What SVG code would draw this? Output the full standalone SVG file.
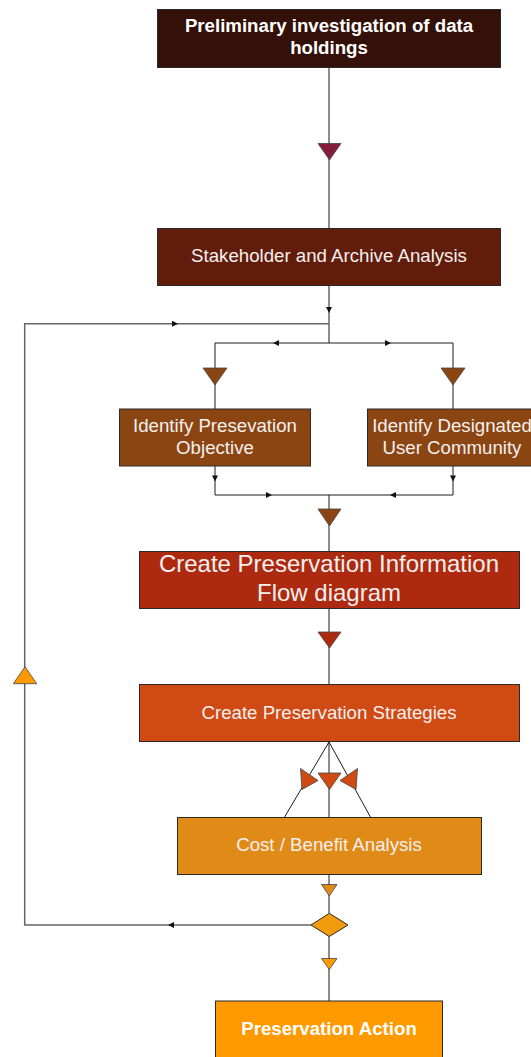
<svg xmlns="http://www.w3.org/2000/svg" width="531" height="1057" viewBox="0 0 531 1057">
<style>
.box{stroke:#2a2a2a;stroke-width:1}
.t{font-family:"Liberation Sans",Arial,sans-serif;fill:#f4f0ee;text-anchor:middle;font-size:18.67px}
.b{font-weight:bold;fill:#ffffff}
.ln{fill:none;stroke:#1a1a1a;stroke-width:1}
.gl{fill:none;stroke:#666;stroke-width:1.5}
.tri{stroke:#444;stroke-width:0.8}
.sm{fill:#111}
</style>
<rect width="531" height="1057" fill="#ffffff"/>
<g id="connectors">
<path class="ln" d="M329 67V228"/>
<path class="ln" d="M329 286V343"/>
<path class="ln" d="M215 343H453M215 343V409M453 343V409"/>
<path class="ln" d="M215 466V495H453V466M329 495V552"/>
<path class="ln" d="M329 609V684"/>
<path class="ln" d="M329 742L284 818M329 742V818M329 742L371 818"/>
<path class="ln" d="M329 874V913M329 936V1001"/>
<path class="gl" d="M311 925H24.7V323.7H329"/>
<polygon class="sm" points="326,307 332,307 329,313"/>
<polygon class="sm" points="172,320.7 178,323.7 172,326.7"/>
<polygon class="sm" points="279,340 273,343 279,346"/>
<polygon class="sm" points="385,340 391,343 385,346"/>
<polygon class="sm" points="212,475.5 218,475.5 215,481.5"/>
<polygon class="sm" points="450,475.5 456,475.5 453,481.5"/>
<polygon class="sm" points="266,492 272,495 266,498"/>
<polygon class="sm" points="396,492 390,495 396,498"/>
<polygon class="sm" points="174,922 168,925 174,928"/>
<polygon class="tri" fill="#861C3E" points="318,143.5 341,143.5 329.5,160"/>
<polygon class="tri" fill="#8B4513" points="203,368 227,368 215,385"/>
<polygon class="tri" fill="#8B4513" points="441,368 465,368 453,385"/>
<polygon class="tri" fill="#8B4513" points="318,509 341,509 329.5,526"/>
<polygon class="tri" fill="#AD2A10" points="318,632 341,632 329.5,648"/>
<polygon class="tri" fill="#D04A14" points="318,773 341,773 329.5,789.5"/>
<polygon class="tri" fill="#D04A14" points="300.5,768.5 302,789.5 318,780.5"/>
<polygon class="tri" fill="#D04A14" points="357.5,768.5 356,789.5 340,780.5"/>
<polygon class="tri" fill="#E08A18" points="321.5,884.5 337,884.5 329.3,896"/>
<polygon class="tri" fill="#FF9900" points="321.5,958.5 337,958.5 329.3,969.5"/>
<polygon class="tri" fill="#FF9900" points="13.3,683.7 36.7,683.7 25,666.7"/>
</g>
<g id="n1"><rect class="box" x="157.5" y="9.5" width="343" height="58" fill="#331008"/>
<text class="t b" x="329" y="32">Preliminary investigation of data</text>
<text class="t b" x="329" y="54">holdings</text></g>
<g id="n2"><rect class="box" x="157.5" y="228.5" width="343" height="57" fill="#611C0C"/>
<text class="t" x="329" y="262">Stakeholder and Archive Analysis</text></g>
<g id="n3"><rect class="box" x="119.5" y="409" width="191" height="57" fill="#8B4513"/>
<text class="t" x="215" y="432">Identify Presevation</text>
<text class="t" x="215" y="454">Objective</text></g>
<g id="n4"><rect class="box" x="367.5" y="409" width="172" height="57" fill="#8B4513"/>
<text class="t" x="452" y="432">Identify Designated</text>
<text class="t" x="452" y="454">User Community</text></g>
<g id="n5"><rect class="box" x="139.5" y="551.5" width="380" height="57" fill="#AD2A10"/>
<text class="t" x="329" y="572" style="font-size:24px">Create Preservation Information</text>
<text class="t" x="329" y="601" style="font-size:24px">Flow diagram</text></g>
<g id="n6"><rect class="box" x="139.5" y="684.5" width="380" height="57" fill="#D04A14"/>
<text class="t" x="329" y="718.5">Create Preservation Strategies</text></g>
<g id="n7"><rect class="box" x="177.5" y="817.5" width="304" height="57" fill="#E08A18"/>
<text class="t" x="329" y="851">Cost / Benefit Analysis</text></g>
<g id="n8"><polygon class="box" fill="#F29B0C" points="311,925 329.3,913.3 348,925 329.3,936.5"/></g>
<g id="n9"><rect class="box" x="215.5" y="1001" width="227" height="62" fill="#FF9900"/>
<text class="t b" x="329" y="1034.5">Preservation Action</text></g>
</svg>
